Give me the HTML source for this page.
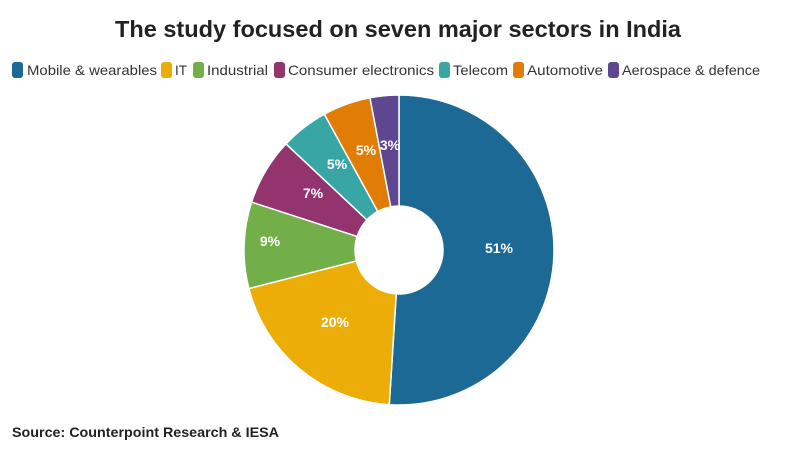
<!DOCTYPE html>
<html><head><meta charset="utf-8"><style>
body{margin:0;background:#fff;}
svg{display:block;font-family:"Liberation Sans",sans-serif;}
</style></head><body>
<svg id="s" width="796" height="450" viewBox="0 0 796 450">
<text x="398" y="37" text-anchor="middle" font-size="23" font-weight="bold" fill="#222" textLength="566" lengthAdjust="spacingAndGlyphs">The study focused on seven major sectors in India</text>
<g font-size="14" fill="#333">
<rect x="12" y="62" width="11" height="16" rx="3" fill="#1d6996"/><text x="27" y="75" textLength="130" lengthAdjust="spacingAndGlyphs">Mobile &amp; wearables</text>
<rect x="161" y="62" width="11" height="16" rx="3" fill="#edad08"/><text x="175" y="75" textLength="12" lengthAdjust="spacingAndGlyphs">IT</text>
<rect x="193" y="62" width="11" height="16" rx="3" fill="#73af48"/><text x="207" y="75" textLength="61" lengthAdjust="spacingAndGlyphs">Industrial</text>
<rect x="274" y="62" width="11" height="16" rx="3" fill="#94346e"/><text x="288" y="75" textLength="146" lengthAdjust="spacingAndGlyphs">Consumer electronics</text>
<rect x="439" y="62" width="11" height="16" rx="3" fill="#38a6a5"/><text x="453" y="75" textLength="55" lengthAdjust="spacingAndGlyphs">Telecom</text>
<rect x="513" y="62" width="11" height="16" rx="3" fill="#e17c05"/><text x="527" y="75" textLength="76" lengthAdjust="spacingAndGlyphs">Automotive</text>
<rect x="608" y="62" width="11" height="16" rx="3" fill="#5f4690"/><text x="622" y="75" textLength="138" lengthAdjust="spacingAndGlyphs">Aerospace &amp; defence</text>
</g>
<g id="pie"></g>
<g font-size="14" font-weight="bold" fill="#fff" text-anchor="middle">
<text x="499" y="253">51%</text>
<text x="335" y="327">20%</text>
<text x="270" y="246">9%</text>
<text x="313" y="198">7%</text>
<text x="337" y="169">5%</text>
<text x="366" y="155">5%</text>
<text x="390" y="150">3%</text>
</g>
<text x="12" y="437" font-size="14" font-weight="bold" fill="#222" textLength="267" lengthAdjust="spacingAndGlyphs">Source: Counterpoint Research &amp; IESA</text>
</svg>
<script>
var d=[51,20,9,7,5,5,3],c=["#1d6996","#edad08","#73af48","#94346e","#38a6a5","#e17c05","#5f4690"];
var cx=399,cy=250,R=155,r=44,a=0,g=document.getElementById("pie"),h="";
function p(rad,t){return [cx+rad*Math.sin(t),cy-rad*Math.cos(t)];}
for(var i=0;i<d.length;i++){var t0=a*2*Math.PI/100;a+=d[i];var t1=a*2*Math.PI/100;var l=(t1-t0)>Math.PI?1:0;
var A=p(R,t0),B=p(R,t1),C=p(r,t1),D=p(r,t0);
h+='<path d="M'+A+'A'+R+','+R+' 0 '+l+' 1 '+B+'L'+C+'A'+r+','+r+' 0 '+l+' 0 '+D+'Z" fill="'+c[i]+'" stroke="#fff" stroke-width="1.5"/>';}
g.innerHTML=h;
</script>
</body></html>
